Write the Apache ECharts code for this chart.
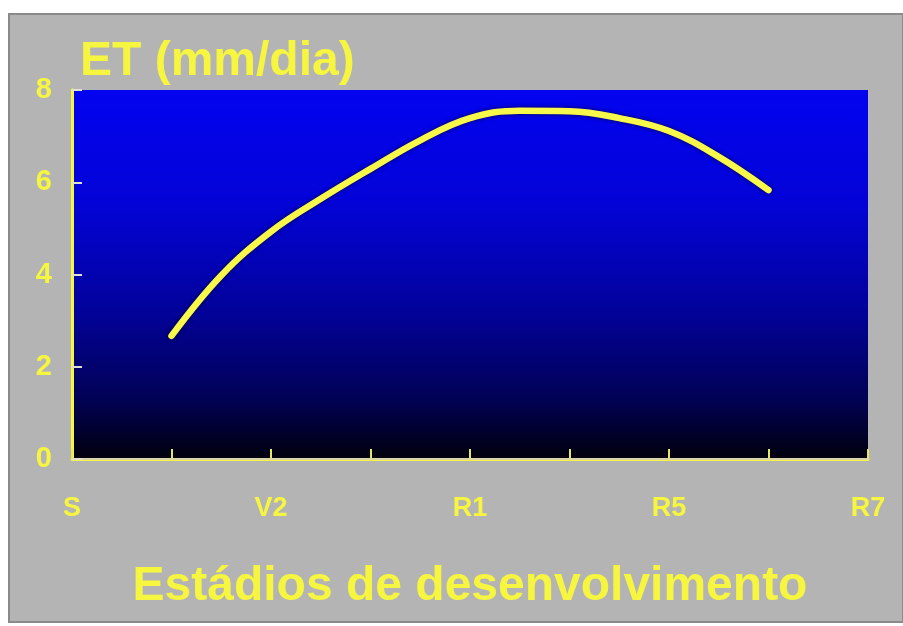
<!DOCTYPE html>
<html>
<head>
<meta charset="utf-8">
<script src="https://cdn.jsdelivr.net/npm/echarts@6/dist/echarts.min.js"></script>
<style>
html,body{margin:0;padding:0;background:#ffffff;}
#chart{width:903px;height:626px;}
</style>
</head>
<body>
<div id="chart"></div>
<script>
// Stage labels at each tick position (0..8)
var stageLabels = ['S', '', 'V2', '', 'R1', '', 'R5', '', 'R7'];
// Stage positions (tick index) of sampled points along the curve
var stagePos = [1, 1.5, 2, 2.5, 3, 3.5, 4, 4.5, 5, 5.5, 6, 6.5, 7];
// ET values (mm/dia)
var etValues = [2.67, 3.98, 4.93, 5.64, 6.29, 6.91, 7.39, 7.55, 7.54, 7.39, 7.11, 6.55, 5.83];
var yTicks = [0, 2, 4, 6, 8];

var seriesData = stagePos.map(function (x, i) { return [x, etValues[i]]; });

var font = "'Liberation Sans', Arial, sans-serif";
var yellow = '#f6f640';

var chart = echarts.init(document.getElementById('chart'), null, {renderer: 'canvas'});
chart.setOption({
  backgroundColor: '#ffffff',
  animation: false,
  title: {
    text: 'ET (mm/dia)',
    left: 75,
    top: 33,
    textStyle: {color: yellow, fontSize: 48, fontWeight: 'bold', fontFamily: font}
  },
  graphic: [{
    type: 'rect',
    z: -10,
    shape: {x: 9, y: 14, width: 894, height: 608},
    style: {fill: '#b4b4b4', stroke: '#8a8a8a', lineWidth: 2}
  }],
  grid: {
    left: 72, right: 35, top: 90, bottom: 167,
    outerBoundsMode: 'none',
    containLabel: false,
    show: true,
    borderWidth: 0,
    backgroundColor: {
      type: 'linear', x: 0, y: 0, x2: 0, y2: 1,
      colorStops: [
        {offset: 0, color: '#0303f0'},
        {offset: 0.3, color: '#0303d8'},
        {offset: 0.6, color: '#02029a'},
        {offset: 0.85, color: '#010150'},
        {offset: 1, color: '#00000c'}
      ]
    }
  },
  xAxis: [{
    type: 'value',
    min: 0, max: 8, interval: 1,
    name: 'Estádios de desenvolvimento',
    nameLocation: 'middle',
    nameGap: 104,
    nameTextStyle: {color: yellow, fontSize: 48, fontWeight: 'bold', fontFamily: font},
    axisLine: {show: true, lineStyle: {color: yellow, width: 3}},
    axisTick: {show: true, inside: true, length: 10, lineStyle: {color: '#e8e860', width: 2}},
    splitLine: {show: false},
    axisLabel: {
      color: yellow, fontSize: 27, fontWeight: 'bold', fontFamily: font, margin: 36,
      formatter: function (v) { return stageLabels[Math.round(v)] || ''; }
    }
  }, {
    type: 'value', position: 'top', min: 0, max: 8,
    axisLine: {show: true, lineStyle: {color: '#d8d4b0', width: 2}},
    axisTick: {show: false}, axisLabel: {show: false}, splitLine: {show: false}
  }],
  yAxis: [{
    type: 'value',
    min: 0, max: 8, interval: 2,
    axisLine: {show: true, lineStyle: {color: yellow, width: 3}},
    axisTick: {show: true, inside: true, length: 10, lineStyle: {color: '#e0e0d0', width: 2}},
    splitLine: {show: false},
    axisLabel: {
      color: yellow, fontSize: 29, fontWeight: 'bold', fontFamily: font, margin: 20,
      formatter: function (v) { return yTicks.indexOf(v) >= 0 ? String(v) : ''; }
    }
  }, {
    type: 'value', position: 'right', min: 0, max: 8,
    axisLine: {show: true, lineStyle: {color: yellow, width: 3}},
    axisTick: {show: false}, axisLabel: {show: false}, splitLine: {show: false}
  }],
  series: [{
    type: 'line',
    data: seriesData,
    smooth: 0.4,
    showSymbol: false,
    lineStyle: {color: '#f8f84a', width: 6.5, cap: 'round', shadowColor: 'rgba(0,0,40,0.8)', shadowBlur: 4}
  }]
});
</script>
</body>
</html>
